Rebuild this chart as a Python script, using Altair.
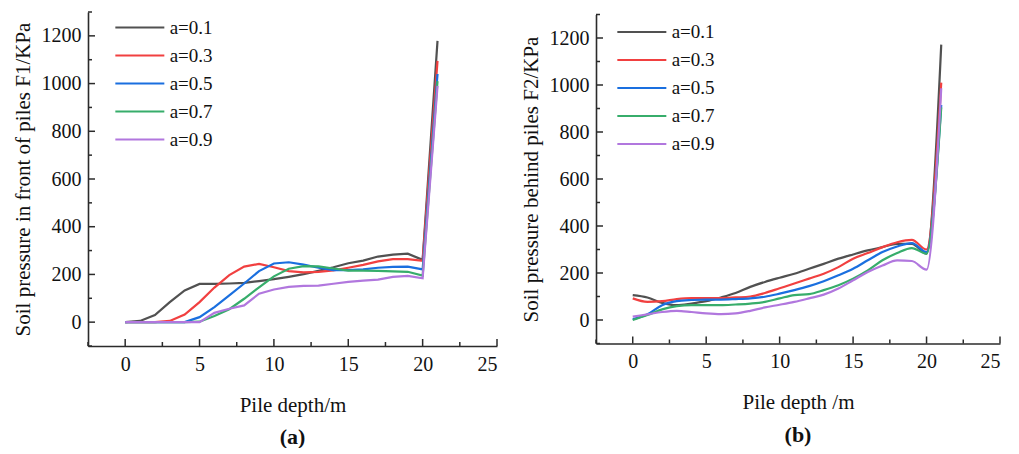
import altair as alt
import pandas as pd

# ---------------- data ----------------
depth = list(range(22))
series_names = ["a=0.1", "a=0.3", "a=0.5", "a=0.7", "a=0.9"]
series_colors = ["#515151", "#F14040", "#1A6FDF", "#37AD6B", "#B177DE"]

# panel (a): soil pressure in front of piles F1/KPa
f1_a01 = [0, 5, 30, 84, 133, 160, 160, 162, 165, 172, 180, 190, 201, 215, 230, 247, 258, 275, 283, 287, 261, 1179]
f1_a03 = [0, 0, 0, 5, 32, 84, 145, 197, 233, 244, 230, 214, 209, 211, 217, 228, 240, 255, 264, 264, 257, 1095]
f1_a05 = [0, 0, 0, 0, 0, 21, 63, 112, 162, 214, 246, 251, 241, 228, 218, 218, 221, 228, 232, 233, 221, 1040]
f1_a07 = [0, 0, 0, 0, 0, 2, 26, 54, 98, 146, 192, 224, 235, 234, 225, 216, 216, 215, 213, 211, 195, 1010]
f1_a09 = [0, 0, 0, 0, 0, 0, 39, 56, 70, 119, 137, 148, 152, 153, 161, 169, 174, 178, 190, 194, 184, 990]

# panel (b): soil pressure behind piles F2/KPa
f2_a01 = [106, 96, 73, 63, 70, 80, 96, 115, 141, 162, 180, 197, 218, 239, 261, 279, 296, 310, 324, 324, 282, 1172]
f2_a03 = [92, 77, 80, 89, 93, 93, 93, 96, 100, 115, 135, 155, 176, 197, 225, 261, 285, 310, 331, 341, 300, 1010]
f2_a05 = [3, 24, 63, 80, 85, 87, 87, 89, 92, 99, 112, 127, 144, 165, 190, 218, 254, 289, 313, 327, 289, 915]
f2_a07 = [0, 21, 45, 59, 63, 63, 63, 66, 70, 77, 92, 106, 110, 127, 148, 176, 211, 254, 285, 306, 282, 905]
f2_a09 = [14, 24, 34, 39, 34, 28, 25, 28, 39, 54, 65, 77, 92, 108, 134, 169, 204, 232, 254, 251, 214, 986]

x_major = [0, 5, 10, 15, 20, 25]
x_minor = [-2.5, 2.5, 7.5, 12.5, 17.5, 22.5]
y_major = [0, 200, 400, 600, 800, 1000, 1200]
y_minor = [-100, 100, 300, 500, 700, 900, 1100, 1300]

FONT = "Liberation Serif"
AX = "#2b2b2b"
SYM_LEN = 49.0
SYM_UNIT = SYM_LEN / 3.0  # path spans 6 units -> length 3*sqrt(size)


def panel(cols, ytitle, xtitle, caption, W, H, interp, lx, ly):
    rows = []
    for name, vals in zip(series_names, cols):
        for d, v in zip(depth, vals):
            rows.append({"depth": d, "p": v, "series": name})
    df = pd.DataFrame(rows)
    xs = alt.Scale(domain=[-2.5, 25], nice=False, zero=False)
    ys = alt.Scale(domain=[-100, 1300], nice=False, zero=False)

    lines = alt.Chart(df).mark_line(strokeWidth=2.2, interpolate=interp).encode(
        x=alt.X("depth:Q", scale=xs,
                axis=alt.Axis(values=x_major, ticks=False, grid=False, title=xtitle,
                              labelPadding=8, titlePadding=20, format="d")),
        y=alt.Y("p:Q", scale=ys,
                axis=alt.Axis(values=y_major, ticks=False, grid=False, title=ytitle,
                              labelPadding=7, titlePadding=8, format="d")),
        color=alt.Color("series:N",
                        scale=alt.Scale(domain=series_names, range=series_colors),
                        legend=alt.Legend(title=None, orient="none",
                                          legendX=lx + SYM_UNIT, legendY=ly,
                                          symbolType="M-3,0H3", symbolSize=SYM_UNIT ** 2,
                                          symbolStrokeWidth=2.2, labelFontSize=19,
                                          labelFont=FONT, labelColor="#111",
                                          labelOffset=SYM_LEN - 2 * SYM_UNIT + 4,
                                          rowPadding=8, padding=0)),
    )

    def xt(vals, L):
        return alt.Chart(pd.DataFrame({"depth": vals})).mark_rule(color=AX, strokeWidth=1.5).encode(
            x=alt.X("depth:Q", scale=xs), y=alt.value(H), y2=alt.value(H - L))

    def yt(vals, L):
        return alt.Chart(pd.DataFrame({"p": vals})).mark_rule(color=AX, strokeWidth=1.5).encode(
            y=alt.Y("p:Q", scale=ys), x=alt.value(0), x2=alt.value(L))

    return alt.layer(lines, xt(x_major, 7), xt(x_minor, 4), yt(y_major, 7), yt(y_minor, 4)).properties(
        width=W, height=H,
        title=alt.TitleParams(caption, orient="bottom", anchor="middle", font=FONT,
                              fontSize=22, fontWeight="bold", color="#111", offset=12),
    )


left = panel([f1_a01, f1_a03, f1_a05, f1_a07, f1_a09],
             "Soil pressure in front of piles F1/KPa", "Pile depth/m", "(a)", 409, 334, "linear", 26, 6)
right = panel([f2_a01, f2_a03, f2_a05, f2_a07, f2_a09],
              "Soil pressure behind piles F2/KPa", "Pile depth /m", "(b)", 404, 329, "monotone", 20, 8)

chart = alt.hconcat(left, right, spacing=99, bounds="flush", center=True).resolve_scale(
    color="independent"
).properties(
    padding={"left": 12, "top": 11, "right": 0, "bottom": 0}
).configure_view(stroke=None).configure_axis(
    labelFont=FONT, titleFont=FONT, labelFontSize=20, titleFontSize=21,
    labelColor="#111", titleColor="#111", titleFontWeight="normal",
    domainColor=AX, domainWidth=1.6,
)

chart.save("out.html", embed_options={"renderer": "svg", "actions": False})
